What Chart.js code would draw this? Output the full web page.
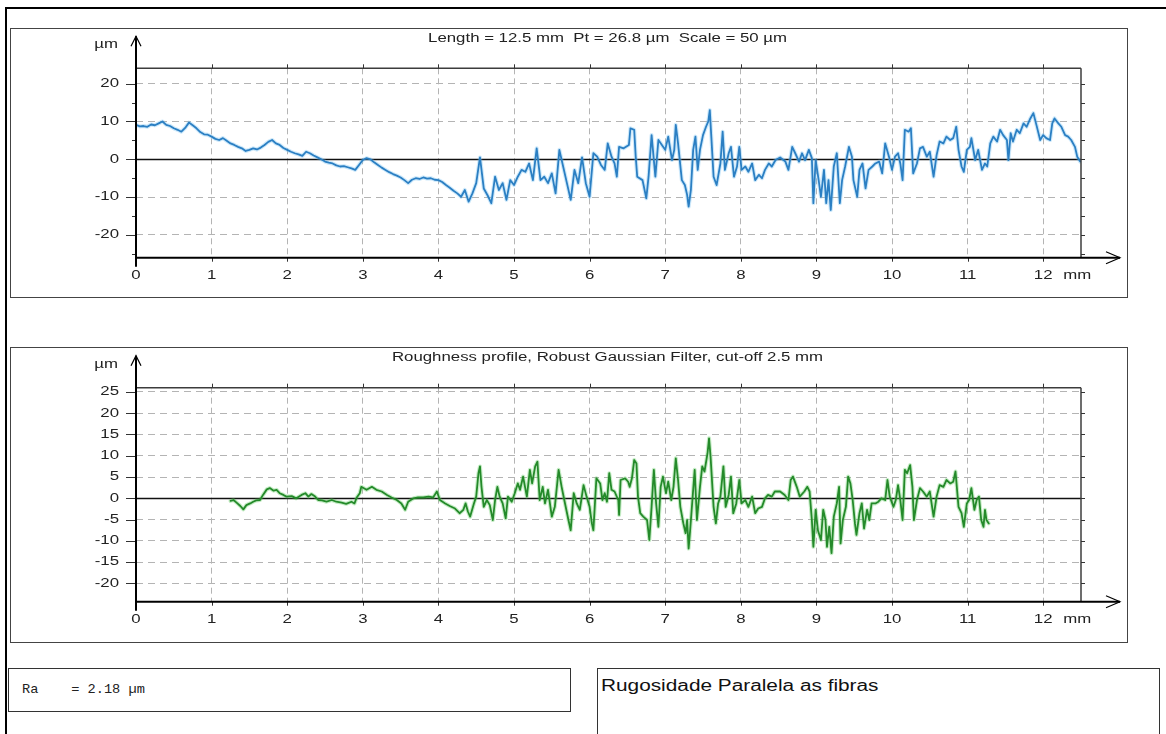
<!DOCTYPE html>
<html>
<head>
<meta charset="utf-8">
<script src="https://cdn.jsdelivr.net/npm/chart.js@4.4.0/dist/chart.umd.min.js"></script>
<style>
  html, body { margin: 0; padding: 0; background: #fff; }
  #page { position: relative; width: 1166px; height: 734px; overflow: hidden; background: #fff; }
  .frame { position: absolute; left: 5px; top: 7px; width: 1300px; height: 900px;
           border-left: 2px solid #000; border-top: 2px solid #000; }
  .panel { position: absolute; border: 1px solid #444; box-sizing: border-box; }
  canvas { position: absolute; }
  .box { position: absolute; border: 1px solid #333; box-sizing: border-box; background: #fff; }
  .ra { position: absolute; left: 13px; top: 13px; font: 13px "Liberation Mono", "DejaVu Sans Mono", monospace;
        color: #222; white-space: pre; transform: scaleX(1.05); transform-origin: 0 0; }
  .note { position: absolute; left: 3px; top: 8px; font: 16px "Liberation Sans", Arial, sans-serif; color: #111;
          white-space: pre; transform: scaleX(1.3); transform-origin: 0 0; }
</style>
</head>
<body>
<div id="page">
  <div class="frame"></div>
  <div class="panel" style="left:10px;top:28px;width:1118px;height:270px"></div>
  <canvas id="primary" width="1118" height="270" style="left:10px;top:28px;width:1118px;height:270px"></canvas>
  <div class="panel" style="left:10px;top:347px;width:1118px;height:296px"></div>
  <canvas id="roughness" width="1118" height="296" style="left:10px;top:347px;width:1118px;height:296px"></canvas>
  <div class="box" style="left:8px;top:668px;width:563px;height:44px"><span class="ra">Ra    = 2.18 µm</span></div>
  <div class="box" style="left:597px;top:668px;width:563px;height:100px"><span class="note">Rugosidade Paralela as fibras</span></div>
</div>
<script>
// ---- Primary profile (mm along the trace, height in µm) ----
const primaryMm = [
  0.00,0.05,0.10,0.15,0.20,0.25,0.30,0.35,0.40,0.45,0.50,0.55,0.60,0.65,0.70,0.75,0.80,0.85,0.90,0.95,
  1.00,1.05,1.10,1.15,1.20,1.25,1.30,1.35,1.40,1.45,1.50,1.55,1.60,1.65,1.70,1.75,1.80,1.85,1.90,1.95,
  2.00,2.05,2.10,2.15,2.20,2.25,2.30,2.35,2.40,2.45,2.50,2.55,2.60,2.65,2.70,2.75,2.80,2.85,2.90,2.95,
  3.00,3.05,3.10,3.15,3.20,3.25,3.30,3.35,3.40,3.45,3.50,3.55,3.60,3.65,3.70,3.75,3.80,3.85,3.90,3.95,
  4.00,4.05,4.10,4.15,4.20,4.25,4.30,4.35,4.40,4.45,4.50,4.55,4.60,4.65,4.70,4.75,4.80,4.85,4.90,4.95,
  5.00,5.05,5.10,5.15,5.20,5.25,5.30,5.35,5.40,5.45,5.50,5.55,5.60,5.65,5.70,5.75,5.80,5.85,5.90,5.95,
  6.00,6.05,6.10,6.15,6.20,6.24,6.29,6.33,6.36,6.39,6.45,6.52,6.54,6.59,6.61,6.63,6.70,6.75,6.78,6.82,
  6.87,6.91,7.00,7.04,7.09,7.12,7.14,7.17,7.22,7.26,7.29,7.31,7.34,7.37,7.40,7.43,7.46,7.50,7.54,7.57,
  7.59,7.61,7.64,7.68,7.73,7.76,7.79,7.84,7.87,7.91,7.95,7.98,8.01,8.06,8.10,8.15,8.19,8.24,8.28,8.32,
  8.37,8.41,8.46,8.52,8.59,8.63,8.68,8.72,8.77,8.81,8.85,8.90,8.94,8.96,8.99,9.03,9.06,9.10,9.13,9.16,
  9.19,9.23,9.27,9.31,9.34,9.38,9.43,9.47,9.49,9.54,9.57,9.61,9.65,9.69,9.74,9.78,9.83,9.87,9.91,9.96,
  10.00,10.04,10.08,10.11,10.14,10.17,10.22,10.25,10.28,10.33,10.37,10.41,10.46,10.50,10.55,10.59,10.63,10.68,10.72,10.77,
  10.81,10.85,10.88,10.92,10.95,10.99,11.03,11.05,11.10,11.14,11.19,11.23,11.26,11.30,11.34,11.39,11.43,11.47,11.52,11.54,
  11.57,11.60,11.65,11.69,11.74,11.78,11.83,11.87,11.91,11.96,12.00,12.04,12.09,12.12,12.15,12.20,12.24,12.29,12.33,12.37,
  12.42,12.45,12.49
];
const primaryUm = [
  9.1,8.7,8.8,8.6,9.2,9.0,9.5,10.0,9.1,8.8,8.2,7.8,7.3,8.3,9.7,9.0,8.2,7.2,6.6,6.5,
  6.0,5.4,5.1,5.6,4.9,4.2,3.8,3.3,2.9,2.2,2.5,2.9,2.6,3.1,3.8,4.6,5.1,4.2,3.8,3.0,
  2.5,2.0,1.6,1.3,0.9,2.0,1.6,1.0,0.5,0.0,-0.6,-0.9,-1.1,-1.6,-1.9,-1.8,-2.1,-2.4,-2.8,-1.5,
  -0.2,0.3,0.0,-0.8,-1.5,-2.2,-2.8,-3.4,-3.9,-4.3,-4.8,-5.5,-6.3,-5.4,-5.0,-5.2,-4.8,-5.1,-5.0,-5.4,
  -5.5,-6.0,-6.8,-7.5,-8.3,-9.0,-9.9,-8.1,-11.2,-9.0,-6.3,0.5,-7.7,-9.5,-11.6,-4.6,-8.1,-6.3,-10.7,-5.5,
  -6.8,-4.6,-2.8,-3.3,-1.1,-5.5,2.9,-5.5,-4.6,-6.3,-3.7,-9.0,2.5,-1.9,-6.3,-10.7,-2.8,-6.3,0.5,-6.3,
  -9.9,1.6,0.7,-1.5,-2.8,4.2,0.7,-1.1,-4.6,3.3,2.9,3.8,8.2,7.8,0.7,-4.6,-5.5,-10.3,-4.6,6.4,
  -4.6,5.1,2.5,6.0,-0.2,2.5,9.1,4.2,-5.5,-6.8,-9.4,-12.5,-8.1,2.5,6.0,-2.8,2.5,6.4,8.6,10.0,
  13.0,6.0,-4.6,-6.8,-1.1,7.3,-2.8,1.6,3.3,-4.6,-1.9,3.3,-2.8,-1.9,-3.3,-1.1,-5.5,-4.1,-5.0,-2.8,
  -1.1,-1.9,-0.2,0.5,-0.6,-2.8,3.3,1.6,-0.6,1.6,-0.2,2.5,0.3,-11.6,-0.2,-5.5,-9.9,-2.8,-11.6,-5.5,
  -13.4,-1.9,1.6,-11.6,-5.5,-1.9,3.3,0.7,-5.5,-9.9,-2.8,-1.1,-7.7,-2.8,-1.9,-1.1,-0.6,-3.7,4.2,0.7,
  -2.8,0.7,1.6,-1.1,-5.5,7.8,7.3,8.2,-3.7,-1.1,2.9,3.3,0.7,2.0,-4.6,1.1,4.7,4.2,6.0,5.1,
  5.6,8.6,2.5,-1.9,-3.3,2.5,3.3,5.6,-0.2,2.5,-2.8,-1.1,-1.9,4.2,6.0,4.7,7.8,6.4,5.1,-0.2,
  6.9,4.7,7.8,6.9,9.5,8.6,10.8,12.2,9.1,5.1,6.4,5.6,5.1,9.5,10.8,9.5,8.6,6.4,6.0,5.1,
  3.3,0.7,-0.6
];

// ---- Roughness profile after the 2.5 mm Gaussian filter ----
const roughMm = [
  1.25,1.29,1.33,1.38,1.42,1.46,1.51,1.55,1.59,1.64,1.68,1.73,1.77,1.82,1.86,1.90,1.95,1.99,2.06,2.12,
  2.19,2.24,2.28,2.32,2.37,2.41,2.46,2.52,2.59,2.65,2.72,2.78,2.85,2.89,2.92,2.96,2.98,3.05,3.12,3.18,
  3.25,3.32,3.38,3.45,3.51,3.56,3.60,3.67,3.73,3.80,3.87,3.93,3.98,4.02,4.09,4.15,4.22,4.28,4.33,4.36,
  4.39,4.42,4.47,4.50,4.53,4.55,4.57,4.60,4.64,4.68,4.72,4.75,4.78,4.81,4.85,4.89,4.92,4.97,5.01,5.05,
  5.08,5.12,5.17,5.21,5.24,5.28,5.31,5.34,5.38,5.41,5.45,5.50,5.54,5.59,5.63,5.67,5.72,5.75,5.79,5.83,
  5.87,5.92,5.96,6.00,6.03,6.05,6.09,6.14,6.17,6.20,6.23,6.26,6.29,6.33,6.38,6.39,6.41,6.47,6.51,6.53,
  6.56,6.59,6.62,6.64,6.67,6.71,6.76,6.79,6.82,6.85,6.88,6.91,6.94,6.97,7.01,7.04,7.08,7.11,7.14,7.17,
  7.20,7.24,7.27,7.29,7.31,7.33,7.36,7.39,7.42,7.46,7.49,7.52,7.56,7.58,7.60,7.64,7.67,7.70,7.73,7.77,
  7.80,7.84,7.87,7.90,7.94,7.98,8.01,8.06,8.10,8.15,8.19,8.23,8.28,8.32,8.36,8.41,8.45,8.52,8.58,8.63,
  8.66,8.69,8.74,8.78,8.84,8.88,8.91,8.94,8.96,8.99,9.02,9.06,9.09,9.12,9.14,9.17,9.20,9.23,9.27,9.30,
  9.32,9.35,9.39,9.42,9.45,9.48,9.51,9.53,9.57,9.60,9.63,9.67,9.70,9.73,9.78,9.82,9.86,9.91,9.94,9.97,
  10.02,10.05,10.08,10.11,10.14,10.17,10.20,10.24,10.27,10.29,10.33,10.37,10.41,10.46,10.50,10.55,10.59,10.63,10.68,10.72,
  10.77,10.81,10.84,10.88,10.92,10.95,10.99,11.02,11.05,11.09,11.12,11.15,11.18,11.21,11.23,11.25,11.28
];
const roughUm = [
  -0.6,-0.4,-1.0,-1.8,-2.6,-1.6,-1.2,-0.8,-0.5,-0.4,0.8,2.1,2.4,1.8,2.0,1.2,0.8,0.4,0.5,0.0,
  0.8,1.2,0.4,1.0,0.4,-0.4,-0.5,-0.8,-0.4,-0.8,-1.0,-1.3,-0.8,-1.2,0.2,1.2,2.7,2.0,2.7,2.0,
  1.6,0.8,0.2,-0.4,-1.2,-2.7,-0.8,0.0,0.2,0.2,0.4,0.2,1.6,-0.4,-1.2,-1.8,-2.4,-3.5,-2.7,-1.2,
  -3.1,-4.3,-1.2,0.4,5.9,7.5,2.7,-2.0,-0.4,-1.6,-5.1,-0.4,2.7,0.4,-1.2,-4.7,0.4,-0.8,1.2,3.5,
  2.0,5.1,0.4,6.7,3.5,7.5,8.6,-0.4,2.7,-1.2,2.0,-4.3,-2.0,6.7,2.7,-0.8,-5.1,-7.5,1.2,-1.2,
  -2.7,3.1,0.4,-2.0,-5.9,-7.5,4.7,3.5,-0.4,1.2,-0.8,5.9,2.0,1.6,-0.4,-3.9,4.3,4.7,3.9,2.7,
  4.7,9.0,8.2,0.4,-3.5,-4.3,-5.1,-9.8,-2.0,6.7,-1.2,-6.7,2.7,5.1,1.2,3.9,-0.4,2.7,9.4,4.3,
  -2.0,-5.9,-8.2,-5.1,-11.8,-7.5,-0.4,6.7,-5.1,2.7,7.5,6.3,10.6,14.1,9.8,-2.0,-5.9,-1.2,0.4,7.5,
  -2.0,0.8,5.1,-3.5,-1.2,4.3,-1.2,-0.4,-2.0,0.4,-3.5,-2.4,-2.0,0.0,0.8,0.4,1.6,1.6,0.8,-0.4,
  4.3,5.1,2.7,0.4,1.6,2.7,1.6,-5.1,-11.4,-2.7,-7.5,-9.8,-2.7,-5.1,-11.4,-6.7,-12.9,-4.3,-1.2,2.7,
  -10.6,-5.1,-2.0,5.1,3.5,-0.4,-5.9,-8.6,-3.5,-1.2,-7.1,-2.7,-5.1,-1.2,-1.2,-0.8,0.0,-0.4,4.3,0.4,
  -2.0,-0.4,3.1,-0.4,-5.1,6.7,5.9,7.8,2.7,-5.1,-0.4,2.4,1.6,0.4,1.6,-4.3,0.4,3.1,2.7,4.3,
  3.5,3.9,6.3,-2.0,-3.5,-6.7,-1.2,-0.4,2.4,-2.7,-0.4,0.4,-5.1,-6.7,-2.7,-5.1,-5.9
];

// ---- Axis ticks ----
const xTickValues = [0,1,2,3,4,5,6,7,8,9,10,11,12];
const xTickLabels = ['0','1','2','3','4','5','6','7','8','9','10','11','12'];
const xUnit = 'mm';
const yUnit = 'µm';
const primaryYTicks = [-20,-10,0,10,20];
const primaryYMinor = [-25,-15,-5,5,15];
const primaryRightTicks = [-25,-20,-15,-10,-5,0,5,10,15,20];
const roughYTicks = [-20,-15,-10,-5,0,5,10,15,20,25];
const roughRightTicks = [-20,-15,-10,-5,0,5,10,15,20,25];

const primaryTitle = 'Length = 12.5 mm  Pt = 26.8 µm  Scale = 50 µm';
const roughTitle = 'Roughness profile, Robust Gaussian Filter, cut-off 2.5 mm';

const TEXT_FONT = '12px "Liberation Sans", Arial, sans-serif';
const TEXT_STRETCH = 1.4;

function wideText(ctx, text, x, y, align) {
  ctx.save();
  ctx.translate(x, y);
  ctx.scale(TEXT_STRETCH, 1);
  ctx.textAlign = align;
  ctx.textBaseline = 'middle';
  ctx.fillText(text, 0, 0);
  ctx.restore();
}

function line(ctx, x1, y1, x2, y2) {
  ctx.beginPath();
  ctx.moveTo(x1, y1);
  ctx.lineTo(x2, y2);
  ctx.stroke();
}

// Axes, arrows, frame, tick marks and labels of the profile plots
const profileDecor = {
  id: 'profileDecor',
  beforeDatasetsDraw(chart, args, o) {
    const {ctx, chartArea: a, scales: {y}} = chart;
    const y0 = Math.round(y.getPixelForValue(0)) + 0.5;
    ctx.save();
    ctx.strokeStyle = '#111';
    ctx.lineWidth = 1.5;
    line(ctx, a.left, y0, a.right, y0);
    ctx.restore();
  },
  afterDraw(chart, args, o) {
    const {ctx, chartArea: a, scales: {x, y}} = chart;
    ctx.save();
    // frame: top and right edges
    ctx.strokeStyle = '#3c3c3c';
    ctx.lineWidth = 1.5;
    line(ctx, a.left, a.top, a.right, a.top);
    line(ctx, a.right, a.top, a.right, a.bottom);

    ctx.lineWidth = 1;
    ctx.strokeStyle = '#333';
    xTickValues.forEach(v => {
      const px = Math.round(x.getPixelForValue(v)) + 0.5;
      line(ctx, px, a.top, px, a.top - 4);
      line(ctx, px, a.bottom, px, a.bottom + 4);
    });
    o.rightTicks.forEach(v => {
      const py = Math.round(y.getPixelForValue(v)) + 0.5;
      line(ctx, a.right, py, a.right + 4, py);
    });
    o.yTicks.forEach(v => {
      const py = Math.round(y.getPixelForValue(v)) + 0.5;
      line(ctx, a.left - 10, py, a.left, py);
    });
    (o.yMinor || []).forEach(v => {
      const py = Math.round(y.getPixelForValue(v)) + 0.5;
      line(ctx, a.left - 4, py, a.left, py);
    });

    // axes with arrows
    const tipY = a.top - 32;
    const tipX = a.right + 39;
    ctx.strokeStyle = '#000';
    ctx.lineWidth = 2;
    line(ctx, a.left, a.bottom + 9, a.left, tipY);
    line(ctx, a.left, a.bottom, tipX, a.bottom);
    ctx.lineWidth = 1.2;
    ctx.beginPath();
    ctx.moveTo(a.left - 5, tipY + 10); ctx.lineTo(a.left, tipY); ctx.lineTo(a.left + 5, tipY + 10);
    ctx.stroke();
    ctx.beginPath();
    ctx.moveTo(tipX - 14, a.bottom - 6); ctx.lineTo(tipX, a.bottom); ctx.lineTo(tipX - 14, a.bottom + 6);
    ctx.stroke();

    // labels
    ctx.fillStyle = '#222';
    ctx.font = TEXT_FONT;
    o.yTicks.forEach(v => wideText(ctx, String(v), a.left - 17, y.getPixelForValue(v), 'right'));
    xTickValues.forEach((v, i) => {
      wideText(ctx, xTickLabels[i], x.getPixelForValue(v), a.bottom + 18, 'center');
    });
    const last = x.getPixelForValue(xTickValues[xTickValues.length - 1]);
    wideText(ctx, xUnit, last + 20, a.bottom + 18, 'left');
    wideText(ctx, yUnit, a.left - 18, tipY + 8.5, 'right');
    wideText(ctx, o.title, (a.left + a.right) / 2 - 1, 11, 'center');
    ctx.restore();
  }
};

function pairs(xs, ys) { return xs.map((v, i) => ({x: v, y: ys[i]})); }

function makeProfile(canvasId, xs, ys, color, halo, yMin, yMax, yTicks, decor, pad) {
  const pts = pairs(xs, ys);
  const lineStyle = { pointRadius: 0, tension: 0, borderJoinStyle: 'round', borderCapStyle: 'round' };
  return new Chart(document.getElementById(canvasId), {
    type: 'line',
    data: {
      datasets: [
        Object.assign({ data: pts, borderColor: color, borderWidth: 1.8, order: 1 }, lineStyle),
        Object.assign({ data: pts, borderColor: halo, borderWidth: 4, order: 2 }, lineStyle)
      ]
    },
    options: {
      responsive: false,
      animation: false,
      devicePixelRatio: 1,
      parsing: false,
      layout: { padding: pad },
      plugins: { legend: { display: false }, tooltip: { enabled: false }, title: { display: false },
                 profileDecor: decor },
      scales: {
        x: {
          type: 'linear', min: 0, max: 12.5, bounds: 'data',
          afterBuildTicks: s => { s.ticks = xTickValues.map(v => ({value: v})); },
          afterFit: s => { s.height = 0; },
          ticks: { display: false },
          border: { display: false, dash: [6, 4] },
          grid: { drawTicks: false, color: c => (c.tick && c.tick.value === 0) ? 'rgba(0,0,0,0)' : '#b4b4b4', lineWidth: 1 }
        },
        y: {
          type: 'linear', min: yMin, max: yMax, bounds: 'data',
          afterBuildTicks: s => { s.ticks = yTicks.map(v => ({value: v})); },
          afterFit: s => { s.width = 0; },
          ticks: { display: false },
          border: { display: false, dash: [7, 5] },
          grid: { drawTicks: false, color: c => (c.tick && c.tick.value === 0) ? 'rgba(0,0,0,0)' : '#b4b4b4', lineWidth: 1 }
        }
      }
    },
    plugins: [profileDecor]
  });
}

makeProfile('primary', primaryMm, primaryUm, '#2b7fc3', 'rgba(110,190,240,0.35)', -26, 24.05,
  primaryYTicks,
  { title: primaryTitle, yTicks: primaryYTicks, yMinor: primaryYMinor, rightTicks: primaryRightTicks },
  { left: 126, right: 47, top: 40.3, bottom: 40.3 });

makeProfile('roughness', roughMm, roughUm, '#248a2a', 'rgba(90,200,90,0.35)', -24.3, 26.0,
  roughYTicks,
  { title: roughTitle, yTicks: roughYTicks, yMinor: [], rightTicks: roughRightTicks },
  { left: 126, right: 47, top: 40.7, bottom: 41.3 });
</script>
</body>
</html>
